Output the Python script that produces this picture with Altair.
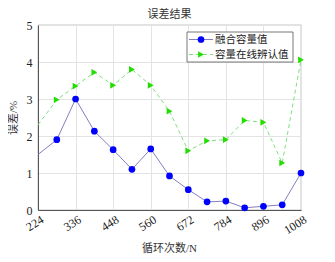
import altair as alt
import pandas as pd

cycles = [224, 280, 336, 392, 448, 504, 560, 616, 672, 728, 784, 840, 896, 952, 1008]
fused = [1.5, 1.9, 3.0, 2.13, 1.63, 1.1, 1.65, 0.92, 0.55, 0.22, 0.24, 0.06, 0.1, 0.14, 1.0]
online = [2.3, 2.98, 3.35, 3.72, 3.37, 3.8, 3.37, 2.67, 1.6, 1.87, 1.9, 2.42, 2.37, 1.27, 4.06]
x_ticks = [224, 336, 448, 560, 672, 784, 896, 1008]
y_ticks = [0, 1, 2, 3, 4, 5]
series_names = ["融合容量值", "容量在线辨认值"]
chart_title = "误差结果"
x_title = "循环次数/N"
y_title = "误差/%"

FONT = "'Liberation Serif', 'Noto Sans CJK SC'"
df = pd.DataFrame({"x": cycles, "fused": fused, "online": online})

xs = alt.X("x:Q", scale=alt.Scale(domain=[224, 1008], nice=False),
           axis=alt.Axis(values=x_ticks, title="", labelAngle=-32, format="d",
                         labelAlign="right", labelBaseline="middle", labelPadding=8,
                         labelOffset=4))
ys = alt.Y("y:Q", scale=alt.Scale(domain=[0, 5], nice=False),
           axis=alt.Axis(values=y_ticks, title=y_title, titlePadding=8, labelPadding=6))

base = alt.Chart(df)

blue_line = base.transform_calculate(y="datum.fused").mark_line(
    color="#8080c0", strokeWidth=1, clip=True).encode(x=xs, y=ys)
blue_pts = base.transform_calculate(y="datum.fused").transform_filter("datum.x > 224").mark_point(
    shape="circle", filled=True, color="#0000ff", size=45, opacity=1).encode(x=xs, y=ys)
green_line = base.transform_calculate(y="datum.online").mark_line(
    color="#7fe07f", strokeWidth=1, strokeDash=[4, 3], clip=True).encode(x=xs, y=ys)
green_pts = base.transform_calculate(y="datum.online").transform_filter("datum.x > 224").mark_point(
    shape="triangle-right", filled=True, color="#22dd00", size=45, opacity=1).encode(x=xs, y=ys)

leg = alt.Chart(pd.DataFrame({"n": [0]}))
leg_box = leg.mark_rect(fill="white", stroke="#555555", strokeWidth=0.8).encode(
    x=alt.value(149), x2=alt.value(255), y=alt.value(7), y2=alt.value(37))
leg_l1 = leg.mark_rule(color="#8080c0", strokeWidth=1).encode(
    x=alt.value(151), x2=alt.value(175), y=alt.value(14.5))
leg_p1 = leg.mark_point(shape="circle", filled=True, color="#0000ff", size=45, opacity=1).encode(
    x=alt.value(163), y=alt.value(14.5))
leg_t1 = leg.mark_text(text=series_names[0], align="left", baseline="middle", font=FONT,
                       fontSize=10.5, color="#222222").encode(x=alt.value(177), y=alt.value(14.5))
leg_l2 = leg.mark_rule(color="#7fe07f", strokeWidth=1, strokeDash=[4, 3]).encode(
    x=alt.value(151), x2=alt.value(175), y=alt.value(29.5))
leg_p2 = leg.mark_point(shape="triangle-right", filled=True, color="#22dd00", size=45, opacity=1).encode(
    x=alt.value(163), y=alt.value(29.5))
leg_t2 = leg.mark_text(text=series_names[1], align="left", baseline="middle", font=FONT,
                       fontSize=10.5, color="#222222").encode(x=alt.value(177), y=alt.value(29.5))

title_mark = leg.mark_text(text=chart_title, align="center", baseline="middle", font=FONT,
                           fontSize=11, color="#333333").encode(x=alt.value(131.5), y=alt.value(-10))
xtitle_mark = leg.mark_text(text=x_title, align="center", baseline="middle", font=FONT,
                            fontSize=11, color="#333333").encode(x=alt.value(131.5), y=alt.value(224))

chart = alt.layer(
    blue_line, green_line, blue_pts, green_pts,
    leg_box, leg_l1, leg_p1, leg_t1, leg_l2, leg_p2, leg_t2, title_mark, xtitle_mark
).properties(
    width=263, height=185,
    autosize=alt.AutoSizeParams(type="none"),
    padding={"left": 30, "top": 17, "right": 26, "bottom": 44},
    background="white",
).configure_view(stroke="#555555", strokeWidth=0.8).configure_axis(
    labelFont=FONT, titleFont=FONT, labelFontSize=12, titleFontSize=11,
    labelColor="#222222", titleColor="#333333", titleFontWeight="normal",
    gridColor="#e3e3e3", domainColor="#555555", ticks=False, domain=True,
)

chart.save("out.html", embed_options={"renderer": "svg", "actions": False})
